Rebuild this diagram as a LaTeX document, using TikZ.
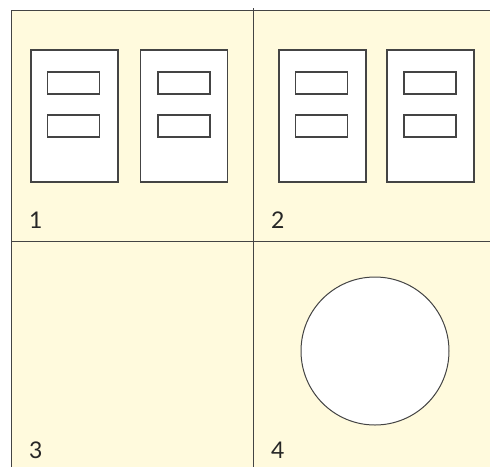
\documentclass[tikz,border=0pt]{standalone}
\usepackage{fontspec}
\setmainfont{Lato}
\definecolor{bgyellow}{HTML}{FFFADD}
\definecolor{linegray}{HTML}{444444}
\begin{document}
\begin{tikzpicture}[x=1pt,y=-1pt,
  doc/.style={draw=linegray,line width=1.1pt,fill=white,minimum width=87pt,minimum height=132pt,inner sep=0pt},
  field/.style={draw=linegray,line width=1.1pt,fill=white,minimum width=52pt,minimum height=22pt,inner sep=0pt},
  lbl/.style={anchor=base west,inner sep=0pt,font=\fontsize{23}{25}\selectfont,text=black!85},
  divider/.style={draw=linegray,line width=1pt}]
\useasboundingbox (0,0) rectangle (490,467);
\fill[bgyellow] (11,10) rectangle (490,467);
\draw[divider] (490,10) -- (11,10) -- (11,467);
\coordinate (vtop) at (253,8);
\coordinate (vbot) at (253,467);
\coordinate (hl) at (11,241);
\coordinate (hr) at (490,241);
\draw[divider] (vtop) -- (vbot);
\draw[divider] (hl) -- (hr);
% panel 1
\node[doc] (d1) at (74.5,116) {};
\node[field] (d1a) at (73.5,83) {};
\node[field] (d1b) at (73.5,126) {};
\node[doc] (d2) at (184,116) {};
\node[field] (d2a) at (184,83) {};
\node[field] (d2b) at (184,126) {};
% panel 2
\node[doc] (d3) at (322.5,116) {};
\node[field] (d3a) at (321.5,83) {};
\node[field] (d3b) at (321.5,126) {};
\node[doc] (d4) at (430.5,116) {};
\node[field] (d4a) at (430,83) {};
\node[field] (d4b) at (430,126) {};
% panel 4
\node[draw=linegray,line width=1pt,fill=white,circle,minimum size=148pt,inner sep=0pt] (c) at (375,351) {};
% labels
\node[lbl] (l1) at (29,228) {1};
\node[lbl] (l2) at (271,228) {2};
\node[lbl] (l3) at (29,458) {3};
\node[lbl] (l4) at (271,458) {4};
\end{tikzpicture}
\end{document}
